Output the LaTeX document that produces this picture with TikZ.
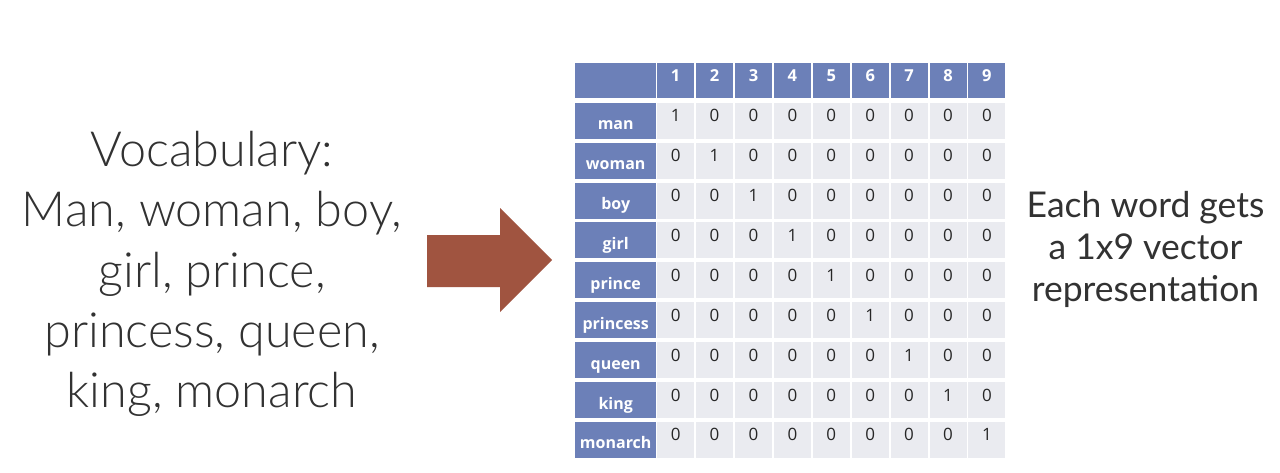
\documentclass[tikz,border=0pt]{standalone}
\usepackage{fontspec}
\setmainfont{Lato}
\newfontfamily\lightfont{Lato Light}
\newfontfamily\tblfont{Open Sans}

\definecolor{tblblue}{RGB}{108,128,184}
\definecolor{cellgray}{RGB}{234,235,240}
\definecolor{arrowred}{RGB}{160,84,64}
\definecolor{txtgray}{RGB}{50,50,50}

\tikzset{
  cell/.style={anchor=north west, fill=cellgray, minimum width=37pt, inner sep=0pt,
    text height=19pt, text depth=17pt, text=black!85, font=\tblfont\fontsize{17}{17}\selectfont},
  head/.style={anchor=north west, fill=tblblue, minimum width=37pt, inner sep=0pt,
    text height=18pt, text depth=17pt, text=white, font=\tblfont\bfseries\fontsize{16.5}{16.5}\selectfont},
  word/.style={anchor=north west, fill=tblblue, minimum width=81pt, inner sep=0pt,
    text height=27pt, text depth=9pt, text=white, font=\tblfont\bfseries\fontsize{16}{16}\selectfont},
}

\begin{document}
\begin{tikzpicture}[x=1pt, y=-1pt]

  \useasboundingbox[fill=white] (0,0) rectangle (1280,472);

  % vocabulary list
  \node[align=center, text=txtgray, font=\lightfont\fontsize{48.5}{60.4}\selectfont] (vocab) at (212,274)
    {Vocabulary:\\Man, woman, boy,\\girl, prince,\\princess, queen,\\king, monarch};

  % big arrow
  \fill[arrowred] (427,235) -- (500,235) -- (500,208) -- (552,260) -- (500,312) -- (500,287) -- (427,287) -- cycle;

  % header row
  \node[head, minimum width=81pt] (corner) at (575,63) {};
  \node[head] (h1) at (657,63) {1};
  \node[head] (h2) at (695.9,63) {2};
  \node[head] (h3) at (734.8,63) {3};
  \node[head] (h4) at (773.7,63) {4};
  \node[head] (h5) at (812.6,63) {5};
  \node[head] (h6) at (851.5,63) {6};
  \node[head] (h7) at (890.4,63) {7};
  \node[head] (h8) at (929.3,63) {8};
  \node[head] (h9) at (968.2,63) {9};

  % word labels
  \node[word] (man) at (575,102.5) {man};
  \node[word] (woman) at (575,142.4) {woman};
  \node[word] (boy) at (575,182.3) {boy};
  \node[word] (girl) at (575,222.2) {girl};
  \node[word] (prince) at (575,262.1) {prince};
  \node[word] (princess) at (575,302) {princess};
  \node[word] (queen) at (575,341.9) {queen};
  \node[word] (king) at (575,381.8) {king};
  \node[word] (monarch) at (575,421.7) {monarch};

  % row 1
  \node[cell] (r1c1) at (657,102.5) {1};
  \node[cell] (r1c2) at (695.9,102.5) {0};
  \node[cell] (r1c3) at (734.8,102.5) {0};
  \node[cell] (r1c4) at (773.7,102.5) {0};
  \node[cell] (r1c5) at (812.6,102.5) {0};
  \node[cell] (r1c6) at (851.5,102.5) {0};
  \node[cell] (r1c7) at (890.4,102.5) {0};
  \node[cell] (r1c8) at (929.3,102.5) {0};
  \node[cell] (r1c9) at (968.2,102.5) {0};

  % row 2
  \node[cell] (r2c1) at (657,142.4) {0};
  \node[cell] (r2c2) at (695.9,142.4) {1};
  \node[cell] (r2c3) at (734.8,142.4) {0};
  \node[cell] (r2c4) at (773.7,142.4) {0};
  \node[cell] (r2c5) at (812.6,142.4) {0};
  \node[cell] (r2c6) at (851.5,142.4) {0};
  \node[cell] (r2c7) at (890.4,142.4) {0};
  \node[cell] (r2c8) at (929.3,142.4) {0};
  \node[cell] (r2c9) at (968.2,142.4) {0};

  % row 3
  \node[cell] (r3c1) at (657,182.3) {0};
  \node[cell] (r3c2) at (695.9,182.3) {0};
  \node[cell] (r3c3) at (734.8,182.3) {1};
  \node[cell] (r3c4) at (773.7,182.3) {0};
  \node[cell] (r3c5) at (812.6,182.3) {0};
  \node[cell] (r3c6) at (851.5,182.3) {0};
  \node[cell] (r3c7) at (890.4,182.3) {0};
  \node[cell] (r3c8) at (929.3,182.3) {0};
  \node[cell] (r3c9) at (968.2,182.3) {0};

  % row 4
  \node[cell] (r4c1) at (657,222.2) {0};
  \node[cell] (r4c2) at (695.9,222.2) {0};
  \node[cell] (r4c3) at (734.8,222.2) {0};
  \node[cell] (r4c4) at (773.7,222.2) {1};
  \node[cell] (r4c5) at (812.6,222.2) {0};
  \node[cell] (r4c6) at (851.5,222.2) {0};
  \node[cell] (r4c7) at (890.4,222.2) {0};
  \node[cell] (r4c8) at (929.3,222.2) {0};
  \node[cell] (r4c9) at (968.2,222.2) {0};

  % row 5
  \node[cell] (r5c1) at (657,262.1) {0};
  \node[cell] (r5c2) at (695.9,262.1) {0};
  \node[cell] (r5c3) at (734.8,262.1) {0};
  \node[cell] (r5c4) at (773.7,262.1) {0};
  \node[cell] (r5c5) at (812.6,262.1) {1};
  \node[cell] (r5c6) at (851.5,262.1) {0};
  \node[cell] (r5c7) at (890.4,262.1) {0};
  \node[cell] (r5c8) at (929.3,262.1) {0};
  \node[cell] (r5c9) at (968.2,262.1) {0};

  % row 6
  \node[cell] (r6c1) at (657,302) {0};
  \node[cell] (r6c2) at (695.9,302) {0};
  \node[cell] (r6c3) at (734.8,302) {0};
  \node[cell] (r6c4) at (773.7,302) {0};
  \node[cell] (r6c5) at (812.6,302) {0};
  \node[cell] (r6c6) at (851.5,302) {1};
  \node[cell] (r6c7) at (890.4,302) {0};
  \node[cell] (r6c8) at (929.3,302) {0};
  \node[cell] (r6c9) at (968.2,302) {0};

  % row 7
  \node[cell] (r7c1) at (657,341.9) {0};
  \node[cell] (r7c2) at (695.9,341.9) {0};
  \node[cell] (r7c3) at (734.8,341.9) {0};
  \node[cell] (r7c4) at (773.7,341.9) {0};
  \node[cell] (r7c5) at (812.6,341.9) {0};
  \node[cell] (r7c6) at (851.5,341.9) {0};
  \node[cell] (r7c7) at (890.4,341.9) {1};
  \node[cell] (r7c8) at (929.3,341.9) {0};
  \node[cell] (r7c9) at (968.2,341.9) {0};

  % row 8
  \node[cell] (r8c1) at (657,381.8) {0};
  \node[cell] (r8c2) at (695.9,381.8) {0};
  \node[cell] (r8c3) at (734.8,381.8) {0};
  \node[cell] (r8c4) at (773.7,381.8) {0};
  \node[cell] (r8c5) at (812.6,381.8) {0};
  \node[cell] (r8c6) at (851.5,381.8) {0};
  \node[cell] (r8c7) at (890.4,381.8) {0};
  \node[cell] (r8c8) at (929.3,381.8) {1};
  \node[cell] (r8c9) at (968.2,381.8) {0};

  % row 9
  \node[cell] (r9c1) at (657,421.7) {0};
  \node[cell] (r9c2) at (695.9,421.7) {0};
  \node[cell] (r9c3) at (734.8,421.7) {0};
  \node[cell] (r9c4) at (773.7,421.7) {0};
  \node[cell] (r9c5) at (812.6,421.7) {0};
  \node[cell] (r9c6) at (851.5,421.7) {0};
  \node[cell] (r9c7) at (890.4,421.7) {0};
  \node[cell] (r9c8) at (929.3,421.7) {0};
  \node[cell] (r9c9) at (968.2,421.7) {1};

  % explanation
  \node[align=center, text=txtgray, font=\fontsize{35.5}{42}\selectfont] (note) at (1145.5,249.5)
    {Each word gets\\a 1x9 vector\\representation};

\end{tikzpicture}
\end{document}
